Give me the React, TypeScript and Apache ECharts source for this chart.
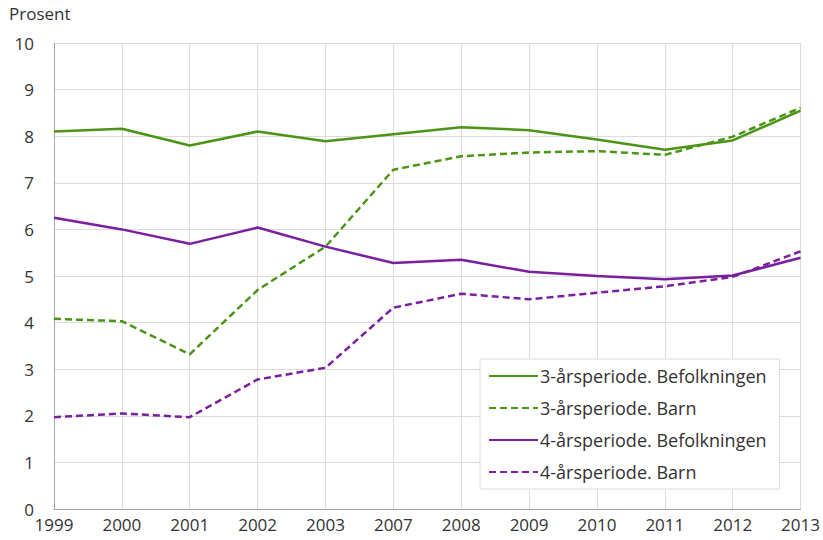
import React, { useEffect, useRef } from "react";
import * as echarts from "echarts";

const years = ["1999", "2000", "2001", "2002", "2003", "2007", "2008", "2009", "2010", "2011", "2012", "2013"];
const befolkning3 = [8.1, 8.16, 7.8, 8.1, 7.89, 8.04, 8.19, 8.13, 7.93, 7.71, 7.91, 8.55];
const barn3 = [4.08, 4.03, 3.32, 4.7, 5.63, 7.28, 7.57, 7.65, 7.68, 7.6, 7.99, 8.61];
const befolkning4 = [6.25, 6.0, 5.69, 6.04, 5.63, 5.28, 5.35, 5.09, 5.0, 4.93, 5.01, 5.39];
const barn4 = [1.97, 2.05, 1.97, 2.78, 3.03, 4.32, 4.62, 4.5, 4.64, 4.78, 4.98, 5.53];
const seriesNames = [
  "3-årsperiode. Befolkningen",
  "3-årsperiode. Barn",
  "4-årsperiode. Befolkningen",
  "4-årsperiode. Barn",
];

const GREEN = "#4b9514";
const PURPLE = "#7a1f9f";
const FONT = "Open Sans";

export default function App() {
  const ref = useRef<HTMLDivElement>(null);
  useEffect(() => {
    const chart = echarts.init(ref.current!, null, { renderer: "svg" });
    const mk = (name: string, data: number[], color: string, dashed: boolean) => ({
      name,
      type: "line",
      data,
      symbol: "none",
      lineStyle: { color, width: 2.5, type: dashed ? [7, 4] : "solid" },
      itemStyle: { color },
    });
    chart.setOption({
      animation: false,
      textStyle: { fontFamily: FONT },
      grid: { left: 54, right: 22, top: 43, bottom: 31 },
      graphic: [
        {
          type: "text",
          left: 9,
          top: 5,
          style: { text: "Prosent", fontSize: 17, fill: "#333", fontFamily: FONT },
        },
      ],
      legend: {
        orient: "vertical",
        left: 480,
        top: 359,
        width: 300,
        padding: [8, 13, 8, 8],
        itemWidth: 49,
        itemHeight: 18,
        itemGap: 14,
        backgroundColor: "#fff",
        borderColor: "#dcdcdc",
        borderWidth: 1,
        itemStyle: { opacity: 0 },
        textStyle: { fontSize: 18, lineHeight: 18, color: "#333", fontFamily: FONT, padding: [0, 0, 0, -3] },
        data: seriesNames,
      },
      xAxis: {
        type: "category",
        data: years,
        boundaryGap: false,
        axisLine: { lineStyle: { color: "#a6a6a6" } },
        axisTick: { show: false },
        axisLabel: { fontSize: 17, color: "#333", margin: 7 },
        splitLine: { show: true, lineStyle: { color: "#dcdcdc" } },
      },
      yAxis: {
        type: "value",
        min: 0,
        max: 10,
        interval: 1,
        axisLine: { show: true, lineStyle: { color: "#a6a6a6" } },
        axisTick: { show: false },
        axisLabel: { fontSize: 17, color: "#333", margin: 20 },
        splitLine: { lineStyle: { color: "#dcdcdc" } },
      },
      series: [
        mk(seriesNames[0], befolkning3, GREEN, false),
        mk(seriesNames[1], barn3, GREEN, true),
        mk(seriesNames[2], befolkning4, PURPLE, false),
        mk(seriesNames[3], barn4, PURPLE, true),
      ],
    });
    return () => chart.dispose();
  }, []);
  return <div ref={ref} style={{ width: 823, height: 540, position: "absolute", left: 0, top: 0 }} />;
}
